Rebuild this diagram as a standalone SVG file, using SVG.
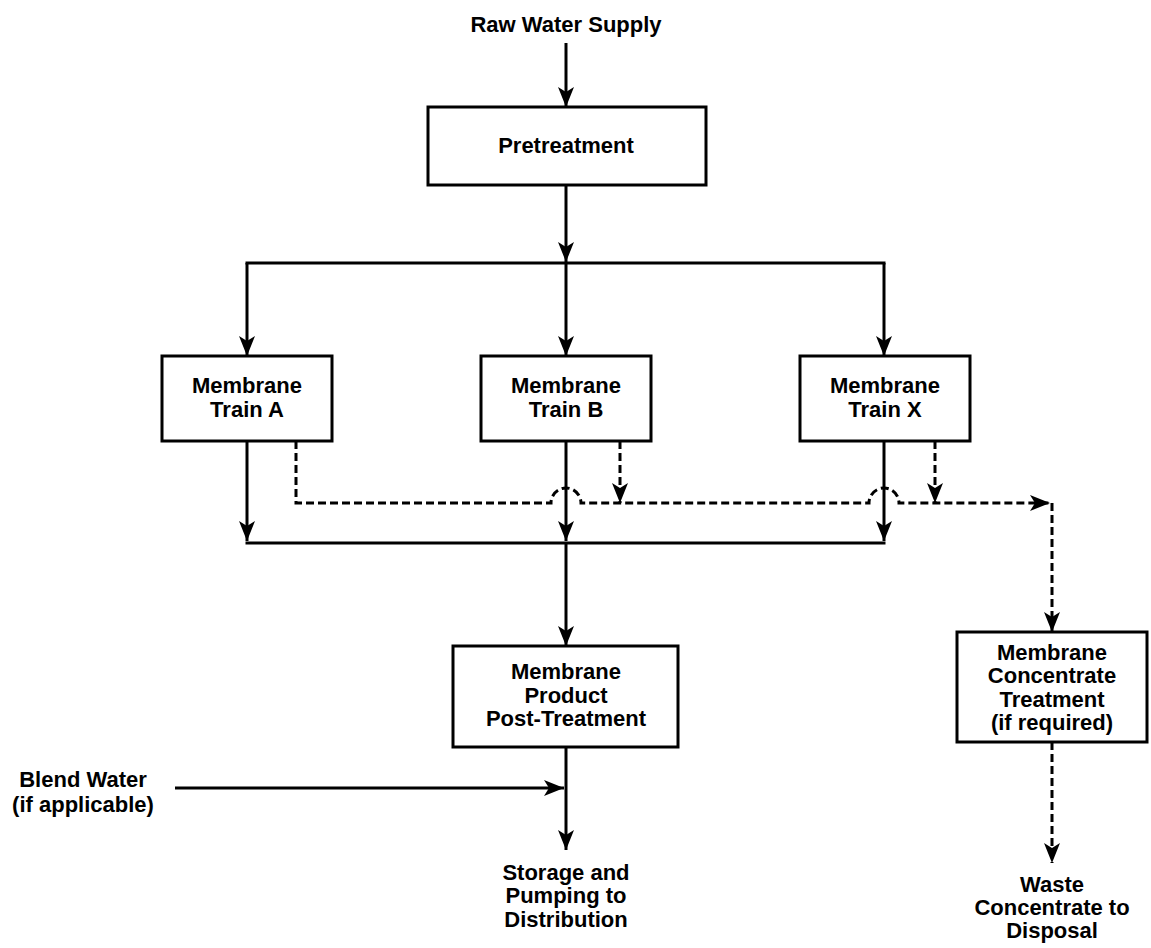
<svg xmlns="http://www.w3.org/2000/svg" width="1151" height="948" viewBox="0 0 1151 948">
  <style>
    .box { fill: #fff; stroke: #000; stroke-width: 3; }
    .lbl { font-family: "Liberation Sans", Arial, Helvetica, sans-serif; font-size: 22px; font-weight: bold; text-anchor: middle; fill: #000; }
    .flow { fill: none; stroke: #000; stroke-width: 3; }
    .waste { fill: none; stroke: #000; stroke-width: 3; stroke-dasharray: 8 4; }
  </style>
  <defs>
    <marker id="arrow" viewBox="0 0 20 16" refX="20" refY="8" markerWidth="20" markerHeight="16" markerUnits="userSpaceOnUse" orient="auto">
      <path d="M0,0 L20,8 L0,16 L5,8 z" fill="#000" stroke="none"/>
    </marker>
  </defs>
  <rect width="1151" height="948" fill="#fff"/>

  <!-- flow connectors -->
  <g id="connectors">
    <!-- main product path -->
    <line class="flow" x1="566" y1="43" x2="566" y2="107" marker-end="url(#arrow)"/>
    <line class="flow" x1="566" y1="185" x2="566" y2="262" marker-end="url(#arrow)"/>
    <line class="flow" x1="245.5" y1="263" x2="885.5" y2="263"/>
    <line class="flow" x1="247" y1="263" x2="247" y2="356" marker-end="url(#arrow)"/>
    <line class="flow" x1="566" y1="263" x2="566" y2="356" marker-end="url(#arrow)"/>
    <line class="flow" x1="884" y1="263" x2="884" y2="356" marker-end="url(#arrow)"/>
    <line class="flow" x1="247" y1="441" x2="247" y2="541" marker-end="url(#arrow)"/>
    <line class="flow" x1="566" y1="441" x2="566" y2="541" marker-end="url(#arrow)"/>
    <line class="flow" x1="884" y1="441" x2="884" y2="541" marker-end="url(#arrow)"/>
    <line class="flow" x1="245.5" y1="543" x2="885.5" y2="543"/>
    <line class="flow" x1="566" y1="543" x2="566" y2="646" marker-end="url(#arrow)"/>
    <line class="flow" x1="566" y1="747" x2="566" y2="850" marker-end="url(#arrow)"/>
    <line class="flow" x1="175" y1="788" x2="564" y2="788" marker-end="url(#arrow)"/>

    <!-- concentrate path (dashed, hops over the product risers) -->
    <path class="waste" d="M296,441 V503 H551 A15,15 0 0 1 581,503 H869 A15,15 0 0 1 899,503 H1050" marker-end="url(#arrow)"/>
    <line class="waste" x1="620" y1="441" x2="620" y2="503" marker-end="url(#arrow)"/>
    <line class="waste" x1="935" y1="441" x2="935" y2="503" marker-end="url(#arrow)"/>
    <line class="waste" x1="1052" y1="503" x2="1052" y2="632" marker-end="url(#arrow)"/>
    <line class="waste" x1="1052" y1="742" x2="1052" y2="863" marker-end="url(#arrow)"/>
  </g>

  <!-- terminal labels -->
  <g id="raw-water">
    <text class="lbl" x="566" y="32">Raw Water Supply</text>
  </g>
  <g id="blend-water">
    <text class="lbl" x="83" y="787">Blend Water</text>
    <text class="lbl" x="83" y="812">(if applicable)</text>
  </g>
  <g id="storage">
    <text class="lbl" x="566" y="880">Storage and</text>
    <text class="lbl" x="566" y="903">Pumping to</text>
    <text class="lbl" x="566" y="927">Distribution</text>
  </g>
  <g id="waste-disposal">
    <text class="lbl" x="1052" y="892">Waste</text>
    <text class="lbl" x="1052" y="915">Concentrate to</text>
    <text class="lbl" x="1052" y="938">Disposal</text>
  </g>

  <!-- process boxes -->
  <g id="pretreatment">
    <rect class="box" x="428" y="107" width="278" height="78"/>
    <text class="lbl" x="566" y="153">Pretreatment</text>
  </g>
  <g id="train-a">
    <rect class="box" x="162" y="356" width="170" height="85"/>
    <text class="lbl" x="247" y="393">Membrane</text>
    <text class="lbl" x="247" y="417">Train A</text>
  </g>
  <g id="train-b">
    <rect class="box" x="481" y="356" width="170" height="85"/>
    <text class="lbl" x="566" y="393">Membrane</text>
    <text class="lbl" x="566" y="417">Train B</text>
  </g>
  <g id="train-x">
    <rect class="box" x="800" y="356" width="170" height="85"/>
    <text class="lbl" x="885" y="393">Membrane</text>
    <text class="lbl" x="885" y="417">Train X</text>
  </g>
  <g id="post-treatment">
    <rect class="box" x="453" y="646" width="225" height="101"/>
    <text class="lbl" x="566" y="679">Membrane</text>
    <text class="lbl" x="566" y="703">Product</text>
    <text class="lbl" x="566" y="726">Post-Treatment</text>
  </g>
  <g id="concentrate-treatment">
    <rect class="box" x="957" y="632" width="190" height="110"/>
    <text class="lbl" x="1052" y="660">Membrane</text>
    <text class="lbl" x="1052" y="683">Concentrate</text>
    <text class="lbl" x="1052" y="707">Treatment</text>
    <text class="lbl" x="1052" y="730">(if required)</text>
  </g>
</svg>
